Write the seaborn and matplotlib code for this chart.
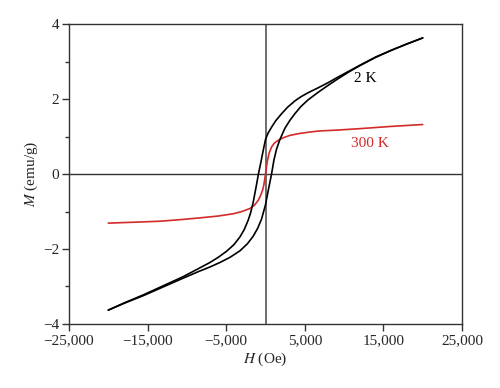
import pandas as pd
import matplotlib.pyplot as plt
import matplotlib.ticker as mticker
import seaborn as sns

# ── Data ─────────────────────────────────────────────────────────────────────
# 2 K loop, descending branch (+20 kOe -> -20 kOe)
h_2k_down = [20000, 18000, 16000, 14000, 12000, 10500, 9000, 8000, 6700, 5430,
             4500, 3740, 2800, 2050, 1300, 770, 300, 0, -300, -600, -900,
             -1200, -1570, -1900, -2200, -2700, -3260, -4000, -4950, -6000,
             -7070, -8500, -10500, -13000, -15500, -18000, -20000]
m_2k_down = [3.63, 3.47, 3.30, 3.12, 2.90, 2.73, 2.56, 2.44, 2.30, 2.17,
             2.06, 1.95, 1.78, 1.61, 1.42, 1.25, 1.08, 0.92, 0.62, 0.30, 0.0,
             -0.35, -0.76, -1.04, -1.23, -1.48, -1.68, -1.88, -2.06, -2.22,
             -2.36, -2.52, -2.74, -2.98, -3.22, -3.44, -3.63]

# 2 K loop, ascending branch (-20 kOe -> +20 kOe)
h_2k_up = [-20000, -18000, -15500, -13000, -10500, -8500, -7070, -5800, -4500,
           -3260, -2300, -1570, -1000, -500, 0, 340, 770, 1070, 1400, 1830,
           2470, 3100, 3740, 4500, 5430, 6700, 8000, 9000, 10500, 12000, 14000,
           16000, 18000, 20000]
m_2k_up = [-3.63, -3.45, -3.24, -3.01, -2.78, -2.60, -2.48, -2.36, -2.22,
           -2.05, -1.86, -1.66, -1.45, -1.20, -0.82, -0.45, 0.0, 0.37, 0.66, 0.92,
           1.22, 1.43, 1.61, 1.80, 1.98, 2.18, 2.37, 2.51, 2.71, 2.89, 3.11,
           3.30, 3.47, 3.63]

# 300 K curve
h_300k = [-20000, -16000, -13500, -11000, -8350, -6000, -4100, -3000, -1980,
          -1400, -920, -600, -370, -200, 0, 220, 450, 770, 1100, 1620, 2300,
          3100, 4300, 5650, 6920, 9000, 12000, 16000, 20000]
m_300k = [-1.31, -1.28, -1.26, -1.22, -1.17, -1.12, -1.06, -1.00, -0.92,
          -0.83, -0.70, -0.56, -0.43, -0.28, 0.0, 0.33, 0.55, 0.72, 0.82, 0.90,
          0.97, 1.03, 1.08, 1.12, 1.15, 1.17, 1.21, 1.27, 1.32]

x_ticks = [-25000, -15000, -5000, 5000, 15000, 25000]
y_ticks = [-4, -2, 0, 2, 4]

# ── Setup ────────────────────────────────────────────────────────────────────
sns.set_theme(style="ticks")
plt.rcParams["font.family"] = ["Liberation Serif", "DejaVu Serif"]
plt.rcParams["mathtext.fontset"] = "stix"

df_down = pd.DataFrame({"H": h_2k_down, "M": m_2k_down})
df_up = pd.DataFrame({"H": h_2k_up, "M": m_2k_up})
df_300 = pd.DataFrame({"H": h_300k, "M": m_300k})

fig = plt.figure(figsize=(5.0, 3.88), dpi=100)
ax = fig.add_axes([0.138, 0.165, 0.786, 0.773])

ax.axhline(0, color="#333333", lw=1.0, zorder=1)
ax.axvline(0, color="#555555", lw=1.2, zorder=1)

line_kw = dict(sort=False, ax=ax, lw=1.2, solid_joinstyle="round")
sns.lineplot(data=df_300, x="H", y="M", color="#d42a2a", **line_kw)
sns.lineplot(data=df_down, x="H", y="M", color="black", **line_kw)
sns.lineplot(data=df_up, x="H", y="M", color="black", **line_kw)

ax.text(12650, 2.55, "2 K", ha="center", va="center", fontsize=11, color="black")
ax.text(13300, 0.82, "300 K", ha="center", va="center", fontsize=11, color="#d42a2a")

ax.set_xlim(-25000, 25000)
ax.set_ylim(-4, 4)
ax.set_xticks(x_ticks)
ax.set_yticks(y_ticks)
ax.yaxis.set_minor_locator(mticker.MultipleLocator(1))
ax.xaxis.set_major_formatter(
    mticker.FuncFormatter(lambda x, _: f"{x:,.0f}".replace("-", "\u2212")))
ax.yaxis.set_major_formatter(
    mticker.FuncFormatter(lambda y, _: f"{y:.0f}".replace("-", "\u2212")))

ax.tick_params(which="major", direction="out", length=5, width=1, labelsize=11,
               color="#333333", pad=2)
ax.tick_params(which="minor", direction="out", length=3, width=1, color="#333333")
for s in ax.spines.values():
    s.set_color("#333333")
    s.set_linewidth(1.0)

ax.set_xlabel("$H$ (Oe)", fontsize=11, labelpad=3)
ax.set_ylabel("$M$ (emu/g)", fontsize=11, labelpad=2)

plt.savefig("out.png", dpi=100)
plt.close()
